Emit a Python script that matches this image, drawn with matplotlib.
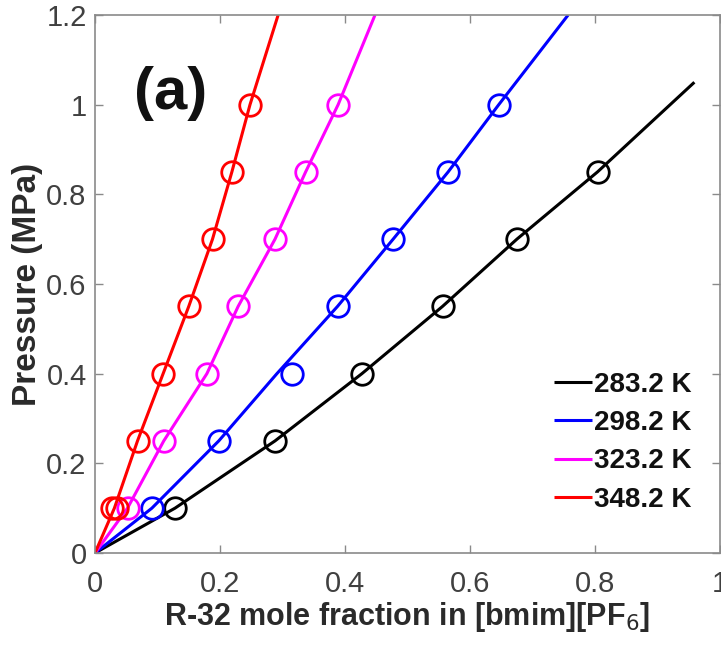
import matplotlib
matplotlib.use("Agg")
import matplotlib.pyplot as plt

# Temperatures (legend labels) and colours
temps = ["283.2 K", "298.2 K", "323.2 K", "348.2 K"]
colors = ["#000000", "#0000ff", "#ff00ff", "#ff0000"]

# Experimental points: R-32 mole fraction and pressure (MPa)
x_283 = [0.128, 0.288, 0.427, 0.556, 0.675, 0.804]
p_283 = [0.10, 0.25, 0.40, 0.55, 0.70, 0.85]
x_298 = [0.091, 0.198, 0.315, 0.388, 0.477, 0.565, 0.646]
p_298 = [0.10, 0.25, 0.40, 0.55, 0.70, 0.85, 1.00]
x_323 = [0.052, 0.110, 0.179, 0.229, 0.288, 0.337, 0.389]
p_323 = [0.10, 0.25, 0.40, 0.55, 0.70, 0.85, 1.00]
x_348 = [0.027, 0.035, 0.068, 0.109, 0.150, 0.188, 0.219, 0.248]
p_348 = [0.10, 0.10, 0.25, 0.40, 0.55, 0.70, 0.85, 1.00]

# Model correlation curves
xm_283 = [0.0, 0.128, 0.288, 0.427, 0.556, 0.675, 0.804, 0.959]
pm_283 = [0.0, 0.10, 0.25, 0.40, 0.55, 0.70, 0.85, 1.05]
xm_298 = [0.0, 0.091, 0.198, 0.291, 0.388, 0.477, 0.565, 0.646, 0.757]
pm_298 = [0.0, 0.10, 0.25, 0.40, 0.55, 0.70, 0.85, 1.00, 1.20]
xm_323 = [0.0, 0.052, 0.110, 0.179, 0.229, 0.288, 0.337, 0.389, 0.448]
pm_323 = [0.0, 0.10, 0.25, 0.40, 0.55, 0.70, 0.85, 1.00, 1.20]
xm_348 = [0.0, 0.031, 0.068, 0.109, 0.150, 0.188, 0.219, 0.248, 0.293]
pm_348 = [0.0, 0.10, 0.25, 0.40, 0.55, 0.70, 0.85, 1.00, 1.20]

xticks = [0, 0.2, 0.4, 0.6, 0.8, 1]
xtick_labels = ["0", "0.2", "0.4", "0.6", "0.8", "1"]
yticks = [0, 0.2, 0.4, 0.6, 0.8, 1.0, 1.2]
ytick_labels = ["0", "0.2", "0.4", "0.6", "0.8", "1", "1.2"]

plt.rcParams["font.family"] = ["Liberation Sans", "DejaVu Sans"]

fig = plt.figure(figsize=(7.21, 6.57), dpi=100)
ax = fig.add_axes([95 / 721, 104 / 657, 625 / 721, 538 / 657])

points = [(x_283, p_283), (x_298, p_298), (x_323, p_323), (x_348, p_348)]
curves = [(xm_283, pm_283), (xm_298, pm_298), (xm_323, pm_323), (xm_348, pm_348)]

for (xp, pp), (xc, pc), col, lab in zip(points, curves, colors, temps):
    ax.plot(xc, pc, color=col, lw=2.2, label=lab, solid_capstyle="butt")
    ax.plot(xp, pp, linestyle="none", marker="o", ms=15.5, mfc="none",
            mec=col, mew=2.0)

ax.set_xlim(0, 1)
ax.set_ylim(0, 1.2)
ax.set_xticks(xticks)
ax.set_xticklabels(xtick_labels)
ax.set_yticks(yticks)
ax.set_yticklabels(ytick_labels)

spine_col = "#8a8a8a"
for s in ax.spines.values():
    s.set_color(spine_col)
    s.set_linewidth(1.2)
ax.tick_params(direction="in", length=6, width=1.0, color=spine_col,
               top=True, right=True, labelsize=21, labelcolor="#404040")
ax.tick_params(axis="x", pad=12)
ax.tick_params(axis="y", pad=6)

ax.set_xlabel("R-32 mole fraction in [bmim][PF$_6$]", fontsize=22,
              fontweight="bold", color="#2a2a2a", labelpad=2)
ax.set_ylabel("Pressure (MPa)", fontsize=24, fontweight="bold",
              color="#2a2a2a")
ax.yaxis.set_label_coords(-0.083, 0.5)

ax.text(0.062, 0.855, "(a)", transform=ax.transAxes, fontsize=43,
        fontweight="bold", color="#111111", ha="left", va="center")

leg = ax.legend(loc="lower right", bbox_to_anchor=(0.955, 0.075), frameon=False,
                fontsize=20, handlelength=1.35, handletextpad=0.1,
                labelspacing=0.44, borderaxespad=0.0, borderpad=0.0)
for t in leg.get_texts():
    t.set_fontweight("bold")
    t.set_color("#111111")

fig.savefig("out.png", dpi=100)
